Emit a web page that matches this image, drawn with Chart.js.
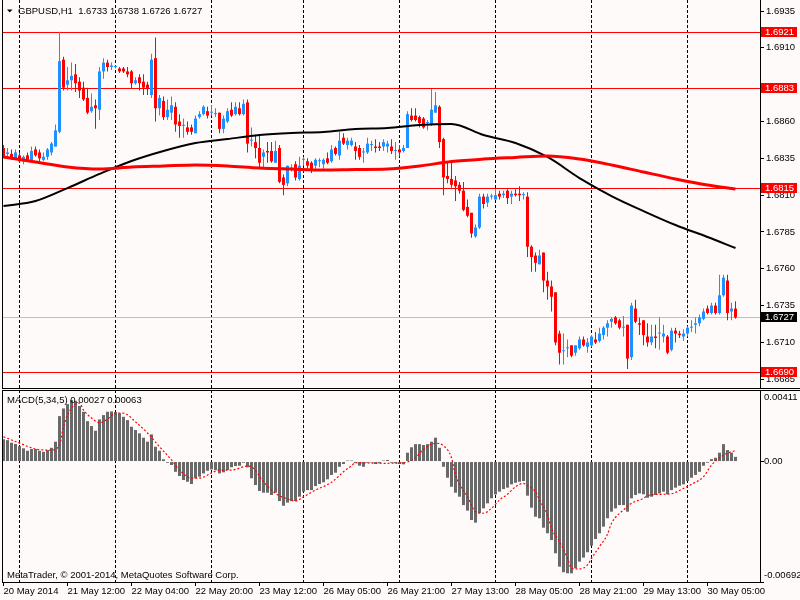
<!DOCTYPE html>
<html>
<head>
<meta charset="utf-8">
<title>GBPUSD,H1</title>
<script src="https://cdn.jsdelivr.net/npm/chart.js@4.4.1/dist/chart.umd.min.js"></script>
<style>
  html, body { margin: 0; padding: 0; background: #fffafa; }
  #wrap { position: relative; width: 800px; height: 600px; overflow: hidden; }
  canvas { position: absolute; left: 0; }
  #priceChart { top: 0; width: 800px; height: 389px; }
  #macdChart { top: 389px; width: 800px; height: 211px; }
</style>
</head>
<body>
<div id="wrap">
  <canvas id="priceChart" width="800" height="389"></canvas>
  <canvas id="macdChart" width="800" height="211"></canvas>
</div>
<script>
// H1 bars, index 0 = 20 May 20:00 ... index 183 = 30 May 12:00
const opens = [
  1.6842,1.6838,1.6838,1.6835,1.6837,1.6833,1.6837,1.6833,1.6841,1.6839,
  1.6834,1.6836,1.6839,1.6843,1.6853,1.6902,1.6885,1.6888,1.6892,1.6887,
  1.6883,1.6876,1.6867,1.6871,1.6868,1.6894,1.6900,1.6897,1.6897,1.6896,
  1.6896,1.6894,1.6894,1.6886,1.6890,1.6887,1.6885,1.6878,1.6903,1.6869,
  1.6874,1.6863,1.6866,1.6870,1.6860,1.6857,1.6856,1.6856,1.6852,1.6863,
  1.6865,1.6867,1.6866,1.6865,1.6866,1.6855,1.6860,1.6868,1.6865,1.6869,
  1.6865,1.6873,1.6847,1.6846,1.6842,1.6836,1.6840,1.6840,1.6832,1.6842,
  1.6822,1.6818,1.6828,1.6831,1.6821,1.6834,1.6833,1.6832,1.6830,1.6833,
  1.6831,1.6835,1.6833,1.6842,1.6837,1.6849,1.6844,1.6844,1.6843,1.6842,
  1.6839,1.6839,1.6844,1.6843,1.6843,1.6843,1.6843,1.6843,1.6840,1.6841,
  1.6840,1.6842,1.6864,1.6864,1.6863,1.6862,1.6859,1.6858,1.6866,1.6870,
  1.6848,1.6823,1.6821,1.6820,1.6817,1.6813,1.6802,1.6798,1.6782,1.6788,
  1.6809,1.6805,1.6809,1.6807,1.6811,1.6810,1.6813,1.6809,1.6811,1.6811,
  1.6810,1.6809,1.6775,1.6769,1.6763,1.6771,1.6752,1.6748,1.6744,1.6716,
  1.6704,1.6706,1.6708,1.6703,1.6706,1.6712,1.6707,1.6708,1.6712,1.6711,
  1.6715,1.6720,1.6724,1.6727,1.6725,1.6720,1.6722,1.6700,1.6733,1.6723,
  1.6725,1.6714,1.6710,1.6714,1.6716,1.6714,1.6714,1.6705,1.6718,1.6716,
  1.6714,1.6716,1.6720,1.6722,1.6723,1.6726,1.6733,1.6730,1.6735,1.6730,
  1.6742,1.6752,1.6731,1.6733
];
const highs = [
  1.6844,1.6842,1.6841,1.6841,1.6839,1.6837,1.6839,1.6843,1.6843,1.6841,
  1.6839,1.6842,1.6846,1.6858,1.6921,1.6904,1.6897,1.6900,1.6899,1.6890,
  1.6887,1.6883,1.6879,1.6875,1.6897,1.6903,1.6902,1.6900,1.6898,1.6897,
  1.6897,1.6897,1.6895,1.6890,1.6892,1.6892,1.6887,1.6906,1.6917,1.6878,
  1.6877,1.6875,1.6877,1.6873,1.6865,1.6862,1.6860,1.6858,1.6864,1.6867,
  1.6871,1.6870,1.6871,1.6869,1.6866,1.6864,1.6869,1.6873,1.6873,1.6873,
  1.6875,1.6875,1.6856,1.6851,1.6851,1.6841,1.6846,1.6846,1.6847,1.6844,
  1.6824,1.6830,1.6831,1.6833,1.6836,1.6836,1.6835,1.6833,1.6835,1.6835,
  1.6835,1.6839,1.6844,1.6843,1.6853,1.6852,1.6849,1.6849,1.6846,1.6844,
  1.6842,1.6849,1.6847,1.6848,1.6846,1.6848,1.6847,1.6848,1.6846,1.6844,
  1.6844,1.6867,1.6869,1.6869,1.6864,1.6863,1.6861,1.6882,1.6880,1.6871,
  1.6849,1.6832,1.6833,1.6823,1.6819,1.6819,1.6807,1.6798,1.6790,1.6811,
  1.6811,1.6811,1.6811,1.6814,1.6813,1.6813,1.6814,1.6813,1.6814,1.6816,
  1.6812,1.6812,1.6776,1.6771,1.6773,1.6771,1.6758,1.6752,1.6744,1.6718,
  1.6716,1.6712,1.6708,1.6708,1.6714,1.6714,1.6713,1.6715,1.6717,1.6720,
  1.6721,1.6725,1.6727,1.6728,1.6726,1.6728,1.6722,1.6737,1.6739,1.6727,
  1.6725,1.6723,1.6722,1.6722,1.6727,1.6722,1.6715,1.6720,1.6720,1.6718,
  1.6719,1.6721,1.6725,1.6727,1.6729,1.6733,1.6735,1.6737,1.6737,1.6756,
  1.6756,1.6756,1.6737,1.6738
];
const lows = [
  1.6835,1.6836,1.6834,1.6834,1.6832,1.6831,1.6833,1.6832,1.6836,1.6833,
  1.6833,1.6834,1.6837,1.6843,1.6852,1.6881,1.6881,1.6881,1.6880,1.6876,
  1.6874,1.6865,1.6866,1.6855,1.6861,1.6889,1.6894,1.6895,1.6896,1.6893,
  1.6893,1.6890,1.6882,1.6885,1.6881,1.6878,1.6878,1.6876,1.6860,1.6864,
  1.6861,1.6861,1.6861,1.6853,1.6849,1.6849,1.6851,1.6851,1.6852,1.6862,
  1.6864,1.6862,1.6864,1.6863,1.6852,1.6852,1.6859,1.6863,1.6864,1.6864,
  1.6864,1.6839,1.6843,1.6835,1.6829,1.6828,1.6832,1.6832,1.6832,1.6818,
  1.6810,1.6816,1.6826,1.6820,1.6820,1.6830,1.6828,1.6825,1.6828,1.6829,
  1.6828,1.6831,1.6832,1.6837,1.6834,1.6844,1.6841,1.6843,1.6834,1.6834,
  1.6832,1.6838,1.6840,1.6839,1.6840,1.6840,1.6839,1.6838,1.6834,1.6836,
  1.6839,1.6842,1.6860,1.6860,1.6856,1.6855,1.6854,1.6857,1.6866,1.6842,
  1.6810,1.6818,1.6815,1.6806,1.6811,1.6799,1.6795,1.6781,1.6781,1.6787,
  1.6801,1.6802,1.6807,1.6807,1.6807,1.6808,1.6804,1.6804,1.6809,1.6806,
  1.6807,1.6768,1.6758,1.6758,1.6763,1.6744,1.6739,1.6731,1.6708,1.6695,
  1.6695,1.6700,1.6700,1.6701,1.6705,1.6707,1.6703,1.6707,1.6709,1.6710,
  1.6712,1.6714,1.6720,1.6722,1.6719,1.6714,1.6692,1.6698,1.6723,1.6715,
  1.6708,1.6707,1.6708,1.6706,1.6705,1.6710,1.6702,1.6704,1.6710,1.6713,
  1.6711,1.6714,1.6717,1.6716,1.6721,1.6725,1.6729,1.6729,1.6729,1.6729,
  1.6741,1.6725,1.6725,1.6726
];
const closes = [
  1.6836,1.6839,1.6835,1.6839,1.6833,1.6836,1.6834,1.6840,1.6837,1.6835,
  1.6836,1.6841,1.6845,1.6854,1.6901,1.6883,1.6888,1.6891,1.6886,1.6881,
  1.6875,1.6866,1.6870,1.6869,1.6894,1.6900,1.6897,1.6898,1.6897,1.6894,
  1.6894,1.6892,1.6886,1.6888,1.6886,1.6883,1.6882,1.6902,1.6869,1.6876,
  1.6863,1.6868,1.6871,1.6858,1.6857,1.6857,1.6853,1.6853,1.6862,1.6865,
  1.6870,1.6864,1.6866,1.6865,1.6855,1.6862,1.6867,1.6864,1.6870,1.6865,
  1.6872,1.6845,1.6847,1.6842,1.6832,1.6839,1.6839,1.6833,1.6840,1.6819,
  1.6817,1.6830,1.6828,1.6822,1.6830,1.6834,1.6830,1.6827,1.6834,1.6833,
  1.6834,1.6832,1.6841,1.6838,1.6847,1.6845,1.6847,1.6847,1.6840,1.6836,
  1.6839,1.6845,1.6844,1.6842,1.6842,1.6846,1.6845,1.6840,1.6840,1.6839,
  1.6842,1.6865,1.6861,1.6861,1.6859,1.6856,1.6859,1.6868,1.6871,1.6846,
  1.6822,1.6821,1.6817,1.6816,1.6813,1.6800,1.6796,1.6784,1.6788,1.6809,
  1.6804,1.6809,1.6809,1.6810,1.6809,1.6811,1.6808,1.6811,1.6810,1.6810,
  1.6810,1.6775,1.6768,1.6764,1.6769,1.6752,1.6748,1.6741,1.6710,1.6703,
  1.6704,1.6706,1.6701,1.6708,1.6712,1.6708,1.6710,1.6714,1.6710,1.6716,
  1.6720,1.6723,1.6726,1.6723,1.6720,1.6720,1.6699,1.6735,1.6724,1.6722,
  1.6715,1.6710,1.6714,1.6713,1.6716,1.6716,1.6703,1.6718,1.6716,1.6715,
  1.6716,1.6720,1.6720,1.6723,1.6727,1.6731,1.6730,1.6735,1.6730,1.6742,
  1.6754,1.6730,1.6733,1.6727
];

// moving averages, read every 8 bars
const maBars = [0,8,16,24,32,40,48,56,64,72,80,88,96,104,112,120,128,136,144,152,160,168,176,183];
const maRed = [1.68359,1.68325,1.68291,1.68277,1.68291,1.68298,1.68305,1.68298,1.68284,1.68277,1.68271,1.68274,
               1.68277,1.68298,1.68328,1.68345,1.68356,1.68366,1.68345,1.68305,1.68257,1.68210,1.68169,1.68142];
const maBlack = [1.68026,1.68060,1.68148,1.68244,1.68332,1.68400,1.68454,1.68481,1.68508,1.68522,1.68529,1.68549,
                 1.68556,1.68576,1.68583,1.68508,1.68454,1.68359,1.68216,1.68094,1.67992,1.67897,1.67816,1.67741];

// MACD(5,34,5) histogram, one value per bar
const macd = [
  0.00128,0.00123,0.00108,0.00101,0.00089,0.00076,0.00062,0.00072,0.00072,0.00062,
  0.00056,0.00066,0.00079,0.00114,0.00261,0.00305,0.00330,0.00353,0.00349,0.00319,
  0.00286,0.00232,0.00204,0.00177,0.00242,0.00267,0.00286,0.00288,0.00284,0.00277,
  0.00257,0.00238,0.00200,0.00181,0.00162,0.00137,0.00114,0.00156,0.00085,0.00062,
  0.00013,-0.00007,-0.00020,-0.00059,-0.00083,-0.00106,-0.00116,-0.00129,-0.00096,-0.00087,
  -0.00068,-0.00053,-0.00045,-0.00049,-0.00068,-0.00062,-0.00049,-0.00033,-0.00026,-0.00024,
  -0.00007,-0.00033,-0.00096,-0.00135,-0.00169,-0.00179,-0.00179,-0.00192,-0.00179,-0.00227,
  -0.00254,-0.00236,-0.00227,-0.00227,-0.00202,-0.00173,-0.00164,-0.00164,-0.00141,-0.00129,
  -0.00119,-0.00102,-0.00077,-0.00064,-0.00030,-0.00014,0.00003,0.00003,-0.00009,-0.00024,
  -0.00030,-0.00007,-0.00001,-0.00014,-0.00010,0.00005,0.00009,-0.00007,-0.00010,-0.00014,
  -0.00016,0.00051,0.00082,0.00100,0.00100,0.00095,0.00100,0.00114,0.00137,0.00079,
  -0.00030,-0.00093,-0.00145,-0.00179,-0.00202,-0.00250,-0.00282,-0.00336,-0.00351,-0.00297,
  -0.00269,-0.00240,-0.00211,-0.00189,-0.00173,-0.00158,-0.00150,-0.00131,-0.00122,-0.00116,
  -0.00112,-0.00196,-0.00265,-0.00317,-0.00326,-0.00380,-0.00412,-0.00451,-0.00527,-0.00604,
  -0.00636,-0.00642,-0.00642,-0.00613,-0.00575,-0.00552,-0.00521,-0.00483,-0.00445,-0.00412,
  -0.00374,-0.00326,-0.00288,-0.00269,-0.00250,-0.00250,-0.00288,-0.00211,-0.00192,-0.00183,
  -0.00188,-0.00208,-0.00202,-0.00192,-0.00183,-0.00173,-0.00188,-0.00164,-0.00150,-0.00139,
  -0.00131,-0.00112,-0.00093,-0.00077,-0.00059,-0.00024,-0.00007,0.00014,0.00022,0.00051,
  0.00100,0.00066,0.00051,0.00027
];
// signal line, read at these bars
const signalBars = [0,4,8,12,14,15,17,19,20,22,24,26,28,30,33,36,39,42,44,47,49,52,54,57,61,62,65,68,71,73,
  75,78,82,85,87,88,95,100,103,105,108,110,112,113,116,118,120,122,124,126,128,130,131,133,134,136,137,139,
  141,142,144,146,147,149,151,152,155,157,160,161,165,167,170,172,175,177,180,182,183];
const signalValues = [0.00142,0.00106,0.00072,0.00066,0.00095,0.00200,0.00307,0.00336,0.00296,0.00250,
  0.00223,0.00244,0.00278,0.00278,0.00228,0.00164,0.00085,0.00009,-0.00049,-0.00095,
  -0.00095,-0.00066,-0.00049,-0.00049,-0.00026,-0.00030,-0.00116,-0.00183,-0.00215,-0.00227,
  -0.00202,-0.00164,-0.00119,-0.00059,-0.00024,-0.00007,-0.00010,-0.00007,0.00022,0.00070,
  0.00105,0.00091,0.00022,-0.00078,-0.00202,-0.00288,-0.00297,-0.00269,-0.00221,-0.00188,
  -0.00145,-0.00125,-0.00139,-0.00173,-0.00221,-0.00307,-0.00384,-0.00460,-0.00556,-0.00613,
  -0.00617,-0.00594,-0.00556,-0.00489,-0.00418,-0.00355,-0.00278,-0.00240,-0.00211,-0.00196,
  -0.00188,-0.00185,-0.00154,-0.00131,-0.00087,-0.00020,0.00037,0.00056,0.00063];

// axes
const tickBars = [0,16,32,48,64,80,96,112,128,144,160,176];
const tickLabels = ['20 May 2014','21 May 12:00','22 May 04:00','22 May 20:00','23 May 12:00','26 May 05:00',
                    '26 May 21:00','27 May 13:00','28 May 05:00','28 May 21:00','29 May 13:00','30 May 05:00'];
const daySepBars = [4,28,52,75,99,123,147,171];
const priceTicks = [1.6685,1.6710,1.6735,1.6760,1.6785,1.6810,1.6835,1.6860,1.6885,1.6910,1.6935];
const levels = [1.6921,1.6883,1.6815,1.6690];
const macdTicks = [0.00411,0,-0.00692];

const UP = '#1e90ff', DOWN = '#ff0000';
const FONT = { family: '"Liberation Sans", Arial, sans-serif', size: 9.5 };
const FONT_CSS = '9.5px "Liberation Sans", Arial, sans-serif';
const X_MIN = -0.375, X_MAX = 189.125;
const last = closes.length - 1;
const bars = closes.map((_, i) => i);
const candleColors = bars.map(i => closes[i] >= opens[i] ? UP : DOWN);

// a price label that sits under a level box is not shown
function priceLabel(v) {
  const hidden = levels.some(l => Math.abs(l - v) < 0.0003);
  return hidden ? '' : Number(v).toFixed(4);
}

// dashed day separators, shared by both panes
function drawSeparators(chart) {
  const { ctx, chartArea: a, scales: { x } } = chart;
  ctx.save();
  ctx.strokeStyle = '#000';
  ctx.lineWidth = 1;
  ctx.setLineDash([3, 2]);
  daySepBars.forEach(b => {
    const px = Math.floor(x.getPixelForValue(b)) + 0.5;
    ctx.beginPath();
    ctx.moveTo(px, a.top);
    ctx.lineTo(px, a.bottom);
    ctx.stroke();
  });
  ctx.restore();
}

const priceDecor = {
  id: 'priceDecor',
  beforeDatasetsDraw(chart) {
    const { ctx, chartArea: a, scales: { y } } = chart;
    drawSeparators(chart);
    ctx.save();
    ctx.lineWidth = 1;
    levels.forEach(v => {
      const py = Math.round(y.getPixelForValue(v)) + 0.5;
      ctx.strokeStyle = '#ff0000';
      ctx.beginPath(); ctx.moveTo(a.left, py); ctx.lineTo(a.right, py); ctx.stroke();
    });
    const bidY = Math.round(y.getPixelForValue(closes[last])) + 0.5;
    ctx.strokeStyle = '#c0c0c0';
    ctx.beginPath(); ctx.moveTo(a.left, bidY); ctx.lineTo(a.right, bidY); ctx.stroke();
    ctx.restore();
  },
  afterDraw(chart) {
    const { ctx, chartArea: a, scales: { y } } = chart;
    ctx.save();
    // frame
    ctx.fillStyle = '#000';
    ctx.fillRect(2, 0, 1, a.bottom);
    ctx.fillRect(2, a.bottom, 798, 1);
    // level boxes on the price axis
    ctx.font = FONT_CSS;
    ctx.textBaseline = 'middle';
    const box = (v, bg) => {
      const py = Math.round(y.getPixelForValue(v));
      ctx.fillStyle = bg;
      ctx.fillRect(a.right + 1, py - 5, 36, 10);
      ctx.fillStyle = '#fff';
      ctx.fillText(v.toFixed(4), a.right + 5, py);
    };
    levels.forEach(v => box(v, '#ff0000'));
    box(closes[last], '#000');
    // header
    ctx.fillStyle = '#000';
    ctx.beginPath();
    ctx.moveTo(7, 9.5); ctx.lineTo(12.5, 9.5); ctx.lineTo(9.75, 12.5); ctx.closePath();
    ctx.fill();
    ctx.textBaseline = 'alphabetic';
    const head = 'GBPUSD,H1  ' + [opens[last], highs[last], lows[last], closes[last]].map(v => v.toFixed(4)).join(' ');
    ctx.fillText(head, 18, 14);
    ctx.restore();
  }
};

const macdDecor = {
  id: 'macdDecor',
  beforeDatasetsDraw(chart) { drawSeparators(chart); },
  afterDraw(chart) {
    const { ctx, chartArea: a, scales: { y } } = chart;
    ctx.save();
    ctx.fillStyle = '#000';
    ctx.fillRect(2, a.top, 798, 1);
    ctx.fillRect(2, a.top, 1, a.bottom - a.top);
    ctx.font = FONT_CSS;
    ctx.textBaseline = 'middle';
    macdTicks.forEach(v => {
      let py = y.getPixelForValue(v);
      py = Math.min(Math.max(py, a.top + 7.5), a.bottom - 6.5);
      ctx.fillText(v === 0 ? '0.00' : v.toFixed(5), a.right + 4, py);
    });
    ctx.textBaseline = 'alphabetic';
    const sig = signalValues[signalValues.length - 1];
    ctx.fillText('MACD(5,34,5) ' + macd[last].toFixed(5) + ' ' + sig.toFixed(5), 7, a.top + 13);
    ctx.fillText('MetaTrader, \u00a9 2001-2014, MetaQuotes Software Corp.', 7, a.bottom - 4.5);
    ctx.restore();
  }
};

const common = {
  responsive: false,
  devicePixelRatio: 1,
  animation: false,
  events: [],
  plugins: { legend: { display: false }, tooltip: { enabled: false } }
};

new Chart(document.getElementById('priceChart'), {
  type: 'bar',
  data: {
    datasets: [
      {
        type: 'line', order: 0,
        data: maBars.map((b, k) => ({ x: b, y: maRed[k] })),
        borderColor: '#ff0000', borderWidth: 3, pointRadius: 0, cubicInterpolationMode: 'monotone'
      },
      {
        type: 'line', order: 0,
        data: maBars.map((b, k) => ({ x: b, y: maBlack[k] })),
        borderColor: '#000', borderWidth: 2, pointRadius: 0, cubicInterpolationMode: 'monotone'
      },
      {
        order: 1,
        data: bars.map(i => ({ x: i, y: [opens[i], closes[i]] })),
        backgroundColor: candleColors,
        grouped: false, barPercentage: 1, categoryPercentage: 1, maxBarThickness: 3,
        minBarLength: 1, inflateAmount: 0
      },
      {
        order: 2,
        data: bars.map(i => ({ x: i, y: [lows[i], highs[i]] })),
        backgroundColor: candleColors,
        grouped: false, barPercentage: 1, categoryPercentage: 1, maxBarThickness: 1,
        minBarLength: 1, inflateAmount: 0
      }
    ]
  },
  options: {
    ...common,
    layout: { autoPadding: false, padding: { left: 2, right: 0, top: 0, bottom: 1 } },
    scales: {
      x: { type: 'linear', min: X_MIN, max: X_MAX, offset: false, display: false, grid: { offset: false } },
      y: {
        position: 'right', min: 1.667905, max: 1.69425,
        afterBuildTicks: s => { s.ticks = priceTicks.map(v => ({ value: v })); },
        afterFit: s => { s.width = 40; s.paddingTop = 0; s.paddingBottom = 0; },
        ticks: { font: FONT, color: '#000', padding: 2, callback: v => priceLabel(v) },
        grid: { drawOnChartArea: false, drawTicks: true, tickLength: 4, color: '#000' },
        border: { display: true, color: '#000' }
      }
    }
  },
  plugins: [priceDecor]
});

new Chart(document.getElementById('macdChart'), {
  type: 'bar',
  data: {
    datasets: [
      {
        type: 'line', order: 0,
        data: signalBars.map((b, k) => ({ x: b, y: signalValues[k] })),
        borderColor: '#ff0000', borderWidth: 1.2, borderDash: [2, 2], pointRadius: 0,
        cubicInterpolationMode: 'monotone'
      },
      {
        order: 1,
        data: bars.map(i => ({ x: i, y: macd[i] })),
        backgroundColor: '#696969',
        grouped: false, barPercentage: 1, categoryPercentage: 1, maxBarThickness: 3,
        minBarLength: 1, inflateAmount: 0
      }
    ]
  },
  options: {
    ...common,
    layout: { autoPadding: false, padding: { left: 2, right: 0, top: 1, bottom: 0 } },
    scales: {
      x: {
        type: 'linear', min: X_MIN, max: X_MAX, offset: false, position: 'bottom',
        afterBuildTicks: s => { s.ticks = tickBars.map(v => ({ value: v })); },
        afterFit: s => { s.height = 18; s.paddingLeft = 0; s.paddingRight = 0; },
        ticks: { font: FONT, color: '#000', align: 'start', maxRotation: 0, autoSkip: false, padding: 0,
                 callback: (v, i) => tickLabels[i] },
        grid: { offset: false, drawOnChartArea: false, drawTicks: true, tickLength: 4, color: '#000' },
        border: { display: true, color: '#000' }
      },
      y: {
        position: 'right', min: -0.00692, max: 0.00411,
        afterBuildTicks: s => { s.ticks = macdTicks.map(v => ({ value: v })); },
        afterFit: s => { s.width = 40; s.paddingTop = 0; s.paddingBottom = 0; },
        ticks: { display: false },
        grid: { drawOnChartArea: false, drawTicks: true, tickLength: 4, color: '#000' },
        border: { display: true, color: '#000' }
      }
    }
  },
  plugins: [macdDecor]
});
</script>
</body>
</html>
